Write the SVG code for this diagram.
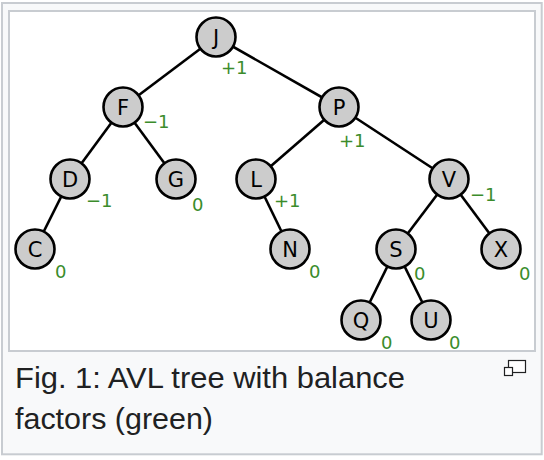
<svg xmlns="http://www.w3.org/2000/svg" width="544" height="460" viewBox="0 0 544 460">
<style>
.frame{fill:#f8f9fa;stroke:#c8ccd1;stroke-width:2}
.img{fill:#ffffff;stroke:#c8ccd1;stroke-width:2}
.edge{stroke:#000;stroke-width:2.6;fill:none}
.node circle{fill:#cccccc;stroke:#000;stroke-width:2.6}
.node text.k{font-family:"DejaVu Sans",sans-serif;font-size:21px;fill:#000;text-anchor:middle}
.node text.b{font-family:"DejaVu Sans",sans-serif;font-size:18px;fill:#3b8c2b}
.cap{font-family:"Liberation Sans",Arial,sans-serif;font-size:30px;fill:#202122}
.icon{fill:#fff;stroke:#202122;stroke-width:1.2}
</style>
<rect class="frame" x="2" y="3" width="539.7" height="451.3"/>
<rect class="img" x="9" y="11" width="526" height="340"/>
<g id="connectors">
<line class="edge" x1="216" y1="37" x2="123" y2="107"/>
<line class="edge" x1="216" y1="37" x2="339" y2="107"/>
<line class="edge" x1="123" y1="107" x2="70" y2="179"/>
<line class="edge" x1="123" y1="107" x2="176" y2="179"/>
<line class="edge" x1="339" y1="107" x2="256" y2="179"/>
<line class="edge" x1="339" y1="107" x2="449" y2="179"/>
<line class="edge" x1="70" y1="179" x2="35" y2="249"/>
<line class="edge" x1="256" y1="179" x2="290" y2="249"/>
<line class="edge" x1="449" y1="179" x2="396" y2="249"/>
<line class="edge" x1="449" y1="179" x2="501" y2="249"/>
<line class="edge" x1="396" y1="249" x2="361" y2="320"/>
<line class="edge" x1="396" y1="249" x2="431" y2="320"/>
</g>
<g id="node-J" class="node"><circle cx="216" cy="37" r="19.5"/><text class="k" x="216" y="44.6">J</text><text class="b" x="221" y="74">+1</text></g>
<g id="node-F" class="node"><circle cx="123" cy="107" r="19.5"/><text class="k" x="123" y="114.6">F</text><text class="b" x="143" y="128">−1</text></g>
<g id="node-P" class="node"><circle cx="339" cy="107" r="19.5"/><text class="k" x="339" y="114.6">P</text><text class="b" x="339" y="146.5">+1</text></g>
<g id="node-D" class="node"><circle cx="70" cy="179" r="19.5"/><text class="k" x="70" y="186.6">D</text><text class="b" x="86" y="207">−1</text></g>
<g id="node-G" class="node"><circle cx="176" cy="179" r="19.5"/><text class="k" x="176" y="186.6">G</text><text class="b" x="192" y="210.5">0</text></g>
<g id="node-L" class="node"><circle cx="256" cy="179" r="19.5"/><text class="k" x="256" y="186.6">L</text><text class="b" x="274" y="207">+1</text></g>
<g id="node-V" class="node"><circle cx="449" cy="179" r="19.5"/><text class="k" x="449" y="186.6">V</text><text class="b" x="470" y="201">−1</text></g>
<g id="node-C" class="node"><circle cx="35" cy="249" r="19.5"/><text class="k" x="35" y="256.6">C</text><text class="b" x="55" y="277.5">0</text></g>
<g id="node-N" class="node"><circle cx="290" cy="249" r="19.5"/><text class="k" x="290" y="256.6">N</text><text class="b" x="309" y="277.5">0</text></g>
<g id="node-S" class="node"><circle cx="396" cy="249" r="19.5"/><text class="k" x="396" y="256.6">S</text><text class="b" x="414" y="280">0</text></g>
<g id="node-X" class="node"><circle cx="501" cy="249" r="19.5"/><text class="k" x="501" y="256.6">X</text><text class="b" x="519" y="280">0</text></g>
<g id="node-Q" class="node"><circle cx="361" cy="320" r="19.5"/><text class="k" x="361" y="327.6">Q</text><text class="b" x="381" y="348.5">0</text></g>
<g id="node-U" class="node"><circle cx="431" cy="320" r="19.5"/><text class="k" x="431" y="327.6">U</text><text class="b" x="449" y="348.5">0</text></g>
<g id="caption">
<text class="cap" x="15" y="388" textLength="390" lengthAdjust="spacingAndGlyphs">Fig. 1: AVL tree with balance</text>
<text class="cap" x="15" y="429" textLength="198" lengthAdjust="spacingAndGlyphs">factors (green)</text>
<rect class="icon" x="508.5" y="360.5" width="17" height="12"/>
<rect class="icon" x="504.5" y="367.5" width="8" height="8"/>
</g>
</svg>
